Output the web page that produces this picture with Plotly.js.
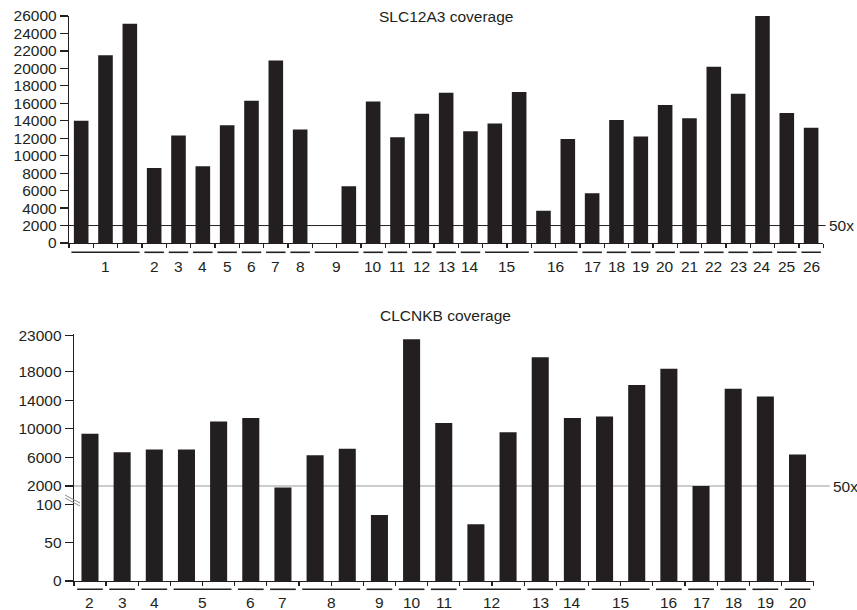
<!DOCTYPE html>
<html>
<head>
<meta charset="utf-8">
<script src="https://cdn.plot.ly/plotly-3.0.1.min.js"></script>
<style>html,body{margin:0;padding:0;background:#fff}#chart{width:857px;height:610px}</style>
</head>
<body>
<div id="chart"></div>
<script>
// ---- data ----
const slcTitle = 'SLC12A3 coverage';
const slcExons = ['1','1','1','2','3','4','5','6','7','8','9','9','10','11','12','13','14','15','15','16','16','17','18','19','20','21','22','23','24','25','26'];
const slcCoverage = [14000,21500,25100,8600,12300,8800,13500,16300,20900,13000,0,6500,16200,12100,14800,17200,12800,13700,17300,3700,11900,5700,14100,12200,15800,14300,20200,17100,26000,14900,13200];
const slcTicks = [0,2000,4000,6000,8000,10000,12000,14000,16000,18000,20000,22000,24000,26000];

const clcTitle = 'CLCNKB coverage';
const clcExons = ['2','3','4','5','5','6','7','8','8','9','10','11','12','12','13','14','15','15','16','17','18','19','20'];
const clcCoverage = [9300,6700,7100,7100,11000,11500,1800,6300,7200,86,22500,10800,74,9500,20000,11500,11700,16100,18400,2000,15600,14500,6400];
const clcLowTicks = [0,50,100];
const clcHighTicks = [2000,6000,10000,14000,18000,23000];

const threshold = 2000;
const thresholdLabel = '50x';

// ---- layout helpers ----
const W = 857, H = 610;
const px = v => v / W;
const py = v => 1 - v / H;
const ink = '#231f20';
const font = {family: 'Liberation Sans, Arial, Helvetica, sans-serif', size: 15.5, color: ink};

function groups(ex) {
  const g = [];
  ex.forEach((e, i) => {
    if (g.length && g[g.length - 1].label === e) g[g.length - 1].end = i;
    else g.push({label: e, start: i, end: i});
  });
  return g;
}
const idx = arr => arr.map((_, i) => i);
const bounds = n => Array.from({length: n + 1}, (_, i) => i - 0.5);

const topDom = [py(243), py(16)];
const lowDom = [py(581), py(497)];
const highDom = [py(497), py(334)];

const barMarker = {color: ink, line: {width: 0}};
const traces = [
  {type: 'bar', x: idx(slcCoverage), y: slcCoverage, xaxis: 'x', yaxis: 'y', width: 0.6,
   marker: barMarker, hoverinfo: 'y'},
  {type: 'bar', x: idx(clcCoverage), y: clcCoverage, xaxis: 'x2', yaxis: 'y3', width: 0.53,
   marker: barMarker, hoverinfo: 'y'},
  {type: 'bar', x: idx(clcCoverage), y: clcCoverage, xaxis: 'x2', yaxis: 'y4', width: 0.53,
   marker: barMarker, hoverinfo: 'y'}
];

const shapes = [];
const annotations = [];

function addGroups(ex, xref, domBottom, inset, ulOff, lblOff) {
  groups(ex).forEach(g => {
    shapes.push({type: 'line', xref: xref, yref: 'paper',
      x0: g.start - 0.5 + inset, x1: g.end + 0.5 - inset,
      y0: domBottom - ulOff / H, y1: domBottom - ulOff / H,
      line: {color: ink, width: 1.6}});
    annotations.push({xref: xref, yref: 'paper', x: (g.start + g.end) / 2,
      y: domBottom - lblOff / H, yanchor: 'middle', xanchor: 'center',
      text: g.label, showarrow: false, font: font});
  });
}
addGroups(slcExons, 'x', topDom[0], 0.1, 9.3, 24);
addGroups(clcExons, 'x2', lowDom[0], 0.1, 8.3, 21);

// threshold lines
shapes.push({type: 'line', xref: 'x domain', yref: 'y', x0: 0, x1: 1.003, y0: threshold, y1: threshold,
  line: {color: ink, width: 1}, layer: 'below'});
shapes.push({type: 'line', xref: 'x2 domain', yref: 'y4', x0: 0, x1: 1.022, y0: threshold, y1: threshold,
  line: {color: '#9a9a9a', width: 1.2}, layer: 'below'});
annotations.push({xref: 'paper', yref: 'y', x: px(827), y: threshold, xanchor: 'left', yanchor: 'middle',
  text: thresholdLabel, showarrow: false, font: font});
annotations.push({xref: 'paper', yref: 'y4', x: px(831), y: threshold, xanchor: 'left', yanchor: 'middle',
  text: thresholdLabel, showarrow: false, font: font});

// axis break marks
[0, 3].forEach(d => {
  shapes.push({type: 'line', xref: 'paper', yref: 'paper',
    x0: px(65), x1: px(80), y0: lowDom[1] + (2 - d) / H, y1: lowDom[1] - (6 + d) / H,
    line: {color: '#8a8a8a', width: 1}});
});

// titles
annotations.push({xref: 'paper', yref: 'paper', x: px(446), y: py(16), xanchor: 'center', yanchor: 'middle',
  text: slcTitle, showarrow: false, font: font});
annotations.push({xref: 'paper', yref: 'paper', x: px(446), y: py(315), xanchor: 'center', yanchor: 'middle',
  text: clcTitle, showarrow: false, font: font});

const xCommon = {showgrid: false, zeroline: false, showline: true, linecolor: ink, linewidth: 1.2,
  ticks: 'outside', ticklen: 4, tickcolor: ink, tickwidth: 1.2, tickmode: 'array', showticklabels: false, fixedrange: true};
const yCommon = {showgrid: false, zeroline: false, showline: true, linecolor: ink, linewidth: 1.2,
  ticks: 'outside', ticklen: 8, tickcolor: ink, tickwidth: 1.2, tickmode: 'array', tickfont: font, fixedrange: true};

const layout = {
  width: W, height: H,
  margin: {l: 0, r: 0, t: 0, b: 0},
  paper_bgcolor: '#fff', plot_bgcolor: '#fff',
  showlegend: false, font: font,
  xaxis: Object.assign({}, xCommon, {domain: [px(69), px(823.3)], range: [-0.5, slcCoverage.length - 0.5],
    tickvals: bounds(slcCoverage.length), anchor: 'y'}),
  yaxis: Object.assign({}, yCommon, {domain: topDom, range: [0, slcTicks[slcTicks.length - 1]],
    tickvals: slcTicks, ticktext: slcTicks.map(String), anchor: 'x'}),
  xaxis2: Object.assign({}, xCommon, {domain: [px(73.9), px(813.6)], range: [-0.5, clcCoverage.length - 0.5],
    tickvals: bounds(clcCoverage.length), anchor: 'y3'}),
  yaxis3: Object.assign({}, yCommon, {domain: lowDom, range: [0, 109.5],
    tickvals: clcLowTicks, ticktext: clcLowTicks.map(String), anchor: 'x2'}),
  yaxis4: Object.assign({}, yCommon, {domain: highDom, range: [463, 23240],
    tickvals: clcHighTicks, ticktext: clcHighTicks.map(String), anchor: 'x2'}),
  shapes: shapes,
  annotations: annotations
};

Plotly.newPlot('chart', traces, layout, {staticPlot: true, displayModeBar: false});
</script>
</body>
</html>
